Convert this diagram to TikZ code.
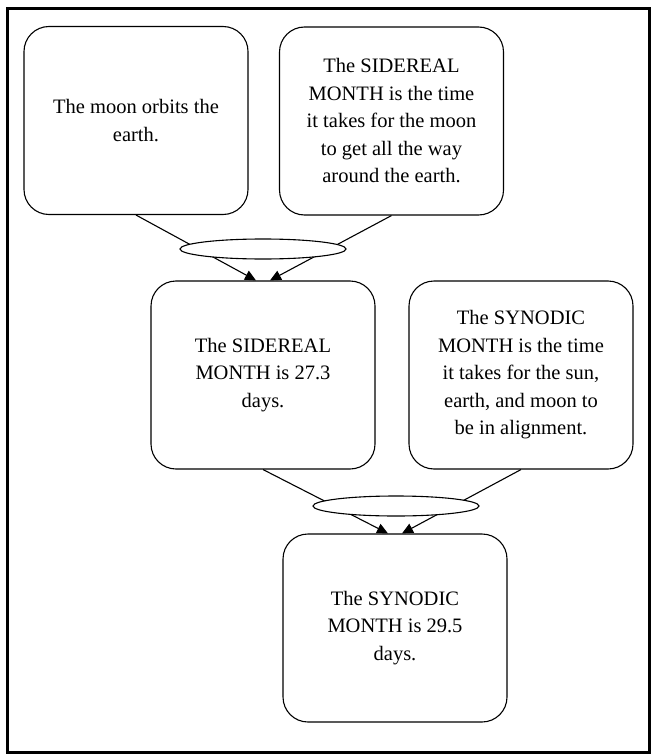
\documentclass[tikz,border=0pt]{standalone}
\usepackage{fontspec}
\setmainfont{Liberation Serif}
\usetikzlibrary{shapes.geometric,arrows.meta}
\begin{document}
\begin{tikzpicture}[x=1pt,y=-1pt]

      \useasboundingbox (0,0) rectangle (651,754);
      \draw[line width=3pt] (7,9) rectangle (649,752);

      \begin{scope}[every node/.style={draw,rounded corners=25pt,line width=1.1pt,
          minimum width=224pt,minimum height=188pt,align=center,
          font=\fontsize{20.5}{27.5}\selectfont}]
        \node (orbit)    at (136,120.5) {The moon orbits the\\earth.};
        \node (sidedef)  at (391.5,121) {The SIDEREAL\\MONTH is the time\\it takes for the moon\\to get all the way\\around the earth.};
        \node (side)     at (263,375)   {The SIDEREAL\\MONTH is 27.3\\days.};
        \node (synodef)  at (521,375)   {The SYNODIC\\MONTH is the time\\it takes for the sun,\\earth, and moon to\\be in alignment.};
        \node (syno)     at (395,628)   {The SYNODIC\\MONTH is 29.5\\days.};
      \end{scope}

      \begin{scope}[every edge/.style={draw,line width=1.1pt,-{Triangle[length=11pt,width=10pt]}}]
        \path (orbit.south)   edge ([xshift=-7pt]side.north);
        \path (sidedef.south) edge ([xshift=7pt]side.north);
        \path (side.south)    edge ([xshift=-7pt]syno.north);
        \path (synodef.south) edge ([xshift=7pt]syno.north);
      \end{scope}

      \begin{scope}[every node/.style={ellipse,draw,fill=white,line width=1.1pt,inner sep=0pt,
          minimum width=166pt,minimum height=20pt}]
        \node (join1) at (263,249) {};
        \node (join2) at (396,506) {};
      \end{scope}

    \end{tikzpicture}
\end{document}
